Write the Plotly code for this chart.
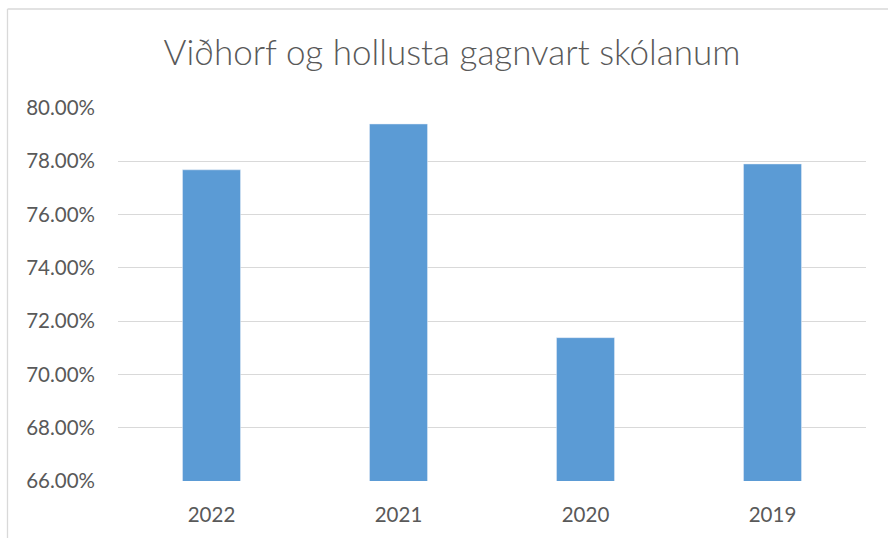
import plotly.graph_objects as go

categories = ["2022", "2021", "2020", "2019"]
values = [0.7768, 0.7940, 0.7138, 0.7790]
y_ticks = [0.66, 0.68, 0.70, 0.72, 0.74, 0.76, 0.78, 0.80]
title_text = "Viðhorf og hollusta gagnvart skólanum"

W, H = 888, 538
L, R, T, B = 118, 22, 108, 57
pw, ph = W - L - R, H - T - B

def px(x):
    return (x - L) / pw

def py(y):
    return (H - B - y) / ph

fig = go.Figure(go.Bar(
    x=categories, y=values, marker_color="#5B9BD5", width=0.31,
))

fig.update_layout(
    width=W, height=H,
    margin=dict(l=L, r=R, t=T, b=B),
    paper_bgcolor="white", plot_bgcolor="white",
    font=dict(family="Lato, Open Sans, sans-serif", color="#595959", size=16),
    title=dict(text=title_text, x=(452) / W, xanchor="center", y=1 - 53 / H, yanchor="middle",
               font=dict(size=35, color="#595959", weight=300)),
    showlegend=False,
    xaxis=dict(showgrid=False, showline=False, ticks="", ticklabelstandoff=19,
               tickfont=dict(size=20.5, color="#595959")),
    yaxis=dict(range=[0.66, 0.80], tickvals=y_ticks, tickformat=".2%",
               showgrid=True, gridcolor="#D9D9D9", gridwidth=1.3, zeroline=False,
               showline=False, ticks="", ticklabelstandoff=22,
               tickfont=dict(size=20.5, color="#595959")),
    shapes=[
        dict(type="line", xref="paper", yref="paper", x0=px(7.5), x1=px(W + 5),
             y0=py(9), y1=py(9), line=dict(color="#D9D9D9", width=1.3)),
        dict(type="line", xref="paper", yref="paper", x0=px(7.5), x1=px(7.5),
             y0=py(9), y1=py(H + 5), line=dict(color="#D9D9D9", width=1.3)),
    ],
)

fig.write_html("out.html", config={"displayModeBar": False},
               post_script="document.body.style.margin='0';")
